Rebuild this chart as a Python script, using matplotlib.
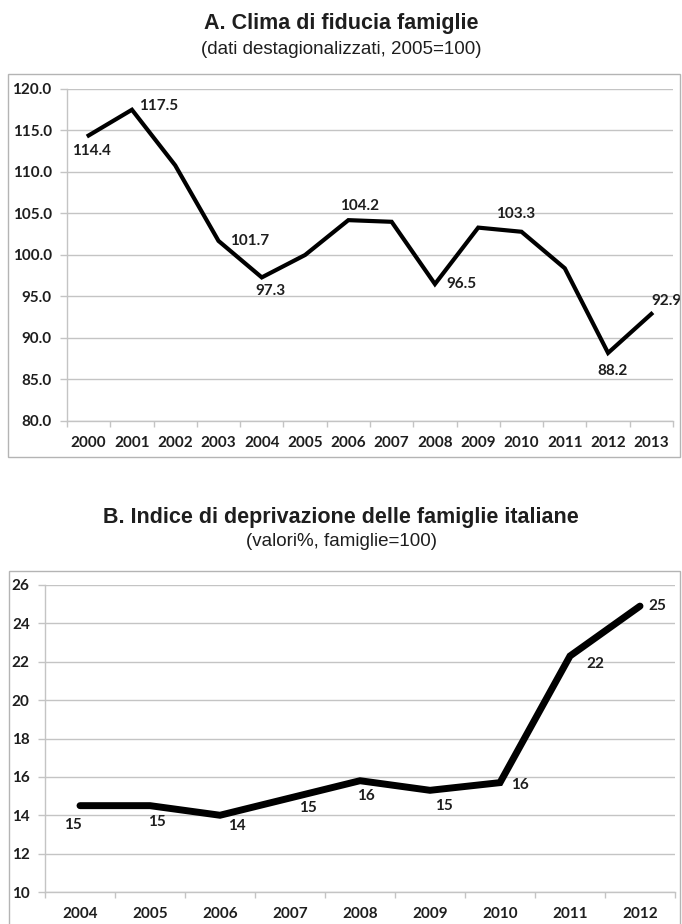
import matplotlib
matplotlib.use("Agg")
import matplotlib.pyplot as plt
from matplotlib.patches import Rectangle

# clima di fiducia delle famiglie, 2005=100
years_a = ["2000", "2001", "2002", "2003", "2004", "2005", "2006",
           "2007", "2008", "2009", "2010", "2011", "2012", "2013"]
fiducia = [114.4, 117.5, 110.8, 101.7, 97.3, 100.0, 104.2,
           104.0, 96.5, 103.3, 102.8, 98.4, 88.2, 92.9]
# which points get a label and where (offset in points, alignment)
labels_a = {0: (2, -11, "center"), 1: (5, 3, "left"), 3: (8, 0, "left"),
            4: (6, -10, "center"), 6: (8, 10, "center"), 8: (8, 0, "left"),
            9: (13, 10, "left"), 12: (3, -13, "center"), 13: (11, 9, "center")}

# indice di deprivazione, valori %
years_b = ["2004", "2005", "2006", "2007", "2008", "2009", "2010", "2011", "2012"]
deprivazione = [14.5, 14.5, 14.0, 14.9, 15.8, 15.3, 15.7, 22.3, 24.9]
labels_b = [(-5, -14, "center"), (5, -12, "center"), (12, -8, "center"),
            (13, -7, "center"), (4, -11, "center"), (10, -11, "center"),
            (8, -2, "left"), (12, -6, "left"), (6, 0, "left")]

title_font = ["Liberation Sans Narrow", "Liberation Sans", "DejaVu Sans"]
tick_font = ["Lato", "DejaVu Sans"]
grid_col = "#c4c4c4"
txt_col = "#1e1e1e"
tick_size = 11

fig = plt.figure(figsize=(6.82, 9.24), dpi=100)
W, H = 682, 924


def fig_box(x0, y0, x1, y1):
    # pixel coords from the top-left corner
    fig.patches.append(Rectangle((x0 / W, 1 - y1 / H), (x1 - x0) / W, (y1 - y0) / H,
                                 transform=fig.transFigure, fill=False,
                                 edgecolor="#b4b4b4", linewidth=1.0))


def style_axes(ax, n, yticks, fmt):
    ax.set_xlim(-0.5, n - 0.5)
    ax.set_ylim(yticks[0], yticks[-1])
    ax.set_yticks(yticks)
    ax.set_yticklabels([fmt.format(v) for v in yticks], fontfamily=tick_font,
                       fontweight="bold", fontsize=tick_size, color=txt_col)
    ax.set_xticks(range(n))
    ax.set_xticks([i - 0.5 for i in range(n + 1)], minor=True)
    ax.tick_params(axis="x", which="major", length=0, pad=11)
    ax.tick_params(axis="x", which="minor", length=4, color=grid_col, width=1)
    ax.tick_params(axis="y", length=5, color=grid_col, width=1, pad=6)
    ax.grid(axis="y", color=grid_col, linewidth=1.0)
    ax.set_axisbelow(True)
    for s in ["top", "right"]:
        ax.spines[s].set_visible(False)
    for s in ["left", "bottom"]:
        ax.spines[s].set_color(grid_col)
        ax.spines[s].set_linewidth(1.0)


# --- chart A ---
fig.text(0.5, 1 - 23 / H, "A. Clima di fiducia famiglie", ha="center", va="center",
         fontfamily=title_font, fontweight="bold", fontsize=15.5, color=txt_col)
fig.text(0.5, 1 - 50 / H, "(dati destagionalizzati, 2005=100)", ha="center", va="center",
         fontfamily=title_font, fontsize=13.5, color=txt_col)
fig_box(8, 74, 680, 457)

ax1 = fig.add_axes([67 / W, 1 - 421 / H, (673 - 67) / W, (421 - 89) / H])
xa = list(range(len(years_a)))
ax1.plot(xa, fiducia, color="black", linewidth=3.0, solid_joinstyle="miter")
style_axes(ax1, len(years_a), [80, 85, 90, 95, 100, 105, 110, 115, 120], "{:.1f}")
ax1.set_xticklabels(years_a, fontfamily=tick_font, fontweight="bold",
                    fontsize=tick_size, color=txt_col)
for i, (dx, dy, ha) in labels_a.items():
    ax1.annotate(f"{fiducia[i]:.1f}", (xa[i], fiducia[i]), xytext=(dx, dy),
                 textcoords="offset points", ha=ha, va="center",
                 fontfamily=tick_font, fontweight="bold", fontsize=tick_size,
                 color=txt_col, annotation_clip=False)

# --- chart B ---
fig.text(0.5, 1 - 517 / H, "B. Indice di deprivazione delle famiglie italiane", ha="center",
         va="center", fontfamily=title_font, fontweight="bold", fontsize=15.5, color=txt_col)
fig.text(0.5, 1 - 542 / H, "(valori%, famiglie=100)", ha="center", va="center",
         fontfamily=title_font, fontsize=13.5, color=txt_col)
fig_box(9, 571, 680, 930)

ax2 = fig.add_axes([45 / W, 1 - 892 / H, (675 - 45) / W, (892 - 585) / H])
xb = list(range(len(years_b)))
ax2.plot(xb, deprivazione, color="black", linewidth=5.0, solid_joinstyle="miter",
         solid_capstyle="round")
style_axes(ax2, len(years_b), [10, 12, 14, 16, 18, 20, 22, 24, 26], "{:.0f}")
ax2.set_xticklabels(years_b, fontfamily=tick_font, fontweight="bold",
                    fontsize=tick_size, color=txt_col)
for i, (dx, dy, ha) in enumerate(labels_b):
    ax2.annotate(f"{int(deprivazione[i] + 0.5)}", (xb[i], deprivazione[i]), xytext=(dx, dy),
                 textcoords="offset points", ha=ha, va="center",
                 fontfamily=tick_font, fontweight="bold", fontsize=tick_size,
                 color=txt_col, annotation_clip=False)

fig.savefig("out.png", dpi=100)
